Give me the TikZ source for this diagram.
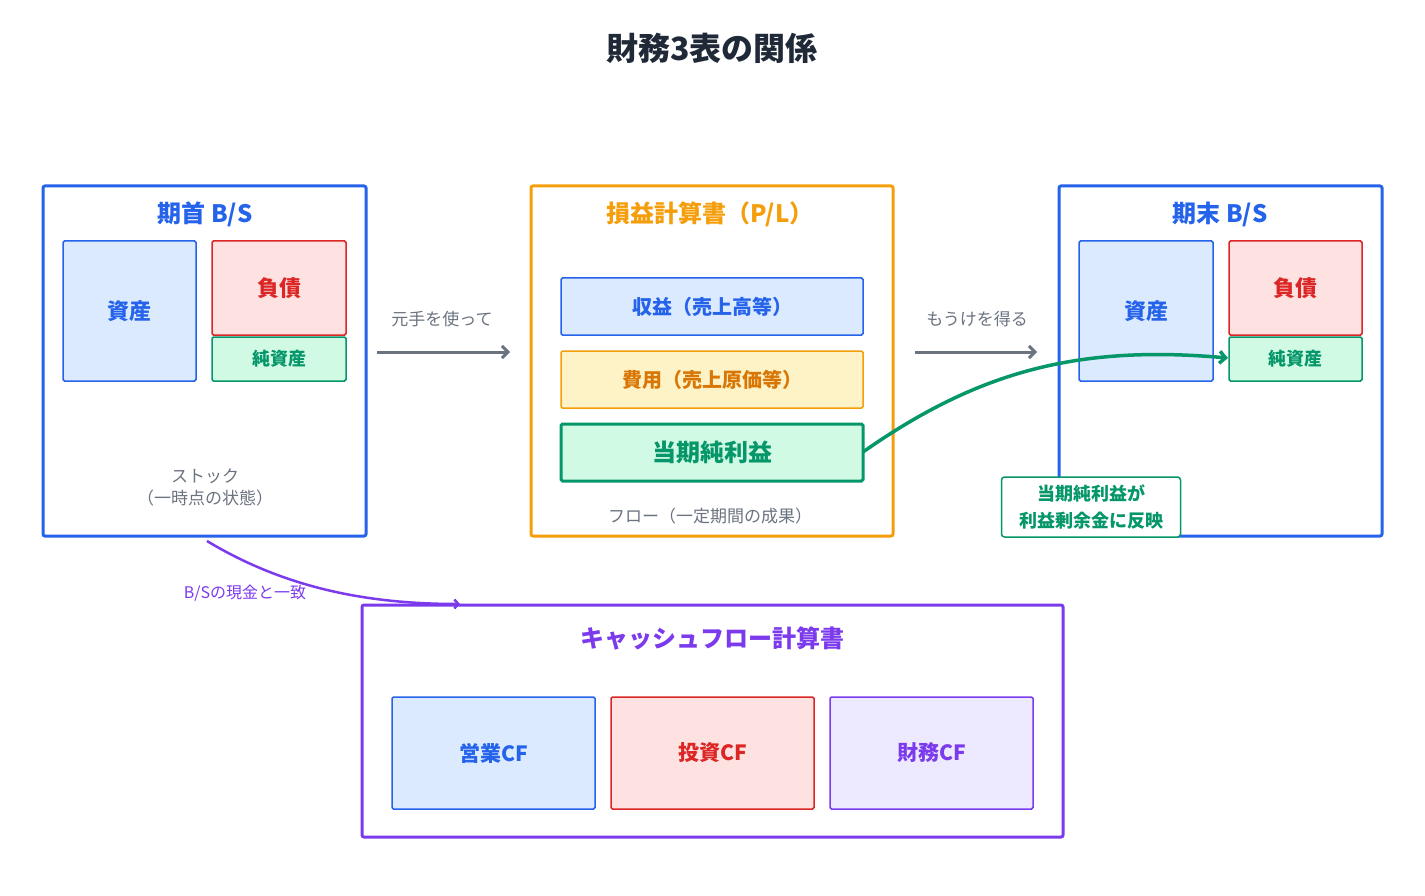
\documentclass[tikz,border=0pt]{standalone}
\usepackage{fontspec}
\setmainfont{Noto Sans CJK JP}
\usetikzlibrary{arrows.meta}
\definecolor{cblue}{HTML}{2563EB}\definecolor{lblue}{HTML}{DBEAFE}
\definecolor{cred}{HTML}{DC2626}\definecolor{lred}{HTML}{FEE2E2}
\definecolor{cgreen}{HTML}{059669}\definecolor{lgreen}{HTML}{D1FAE5}
\definecolor{corange}{HTML}{F59E0B}\definecolor{dorange}{HTML}{D97706}\definecolor{lorange}{HTML}{FEF3C7}
\definecolor{cpurple}{HTML}{7C3AED}\definecolor{lpurple}{HTML}{EDE9FE}
\definecolor{cgray}{HTML}{6B7280}\definecolor{ctitle}{HTML}{1F2937}
\begin{document}
\begin{tikzpicture}[x=1pt,y=-1pt,
 frame/.style={draw=#1,line width=3pt,rounded corners=2pt},
 inner/.style n args={3}{draw=#1,fill=#2,line width=1.5pt,rounded corners=1.5pt,text=#3},
 lab/.style={font=\fontsize{22}{26}\selectfont\bfseries},
 small/.style={font=\fontsize{17}{22}\selectfont,text=cgray,align=center},
 arr/.style={draw=cgray,line width=3pt,-{Straight Barb[length=6pt,width=12pt]}}]
\useasboundingbox (0,0) rectangle (1425,896);
\node[text=ctitle,font=\fontsize{32}{38}\selectfont\bfseries] (title) at (712,48) {財務3表の関係};
% left BS
\draw[frame=cblue] (43,186) rectangle (366,536);
\node[lab,text=cblue,font=\fontsize{24}{28}\selectfont\bfseries] (t1) at (205,214) {期首 B/S};
\draw[inner={cblue}{lblue}{cblue}] (63,241) rectangle (196,381) node[midway,lab] (a1) {資産};
\draw[inner={cred}{lred}{cred}] (212,241) rectangle (346,335) node[midway,lab] (l1) {負債};
\draw[inner={cgreen}{lgreen}{cgreen}] (212,337) rectangle (346,381) node[midway,font=\fontsize{18}{22}\selectfont\bfseries] (n1) {純資産};
\node[small] (s1) at (205,487) {ストック\\（一時点の状態）};
% arrow 1
\coordinate (a1s) at (377,352); \coordinate (a1e) at (510,352);
\draw[arr] (a1s) -- (a1e);
\node[small] (m1) at (442,319) {元手を使って};
% PL
\draw[frame=corange] (531,186) rectangle (893,536);
\node[text=corange,font=\fontsize{24}{28}\selectfont\bfseries] (t2) at (710,214) {損益計算書（P/L）};
\draw[inner={cblue}{lblue}{cblue}] (561,278) rectangle (863,335) node[midway,font=\fontsize{20}{24}\selectfont\bfseries] (rev) {収益（売上高等）};
\draw[inner={corange}{lorange}{dorange}] (561,351) rectangle (863,408) node[midway,font=\fontsize{20}{24}\selectfont\bfseries] (exp) {費用（売上原価等）};
\draw[draw=cgreen,fill=lgreen,line width=3pt,rounded corners=1.5pt] (561,424) rectangle (863,481) node[midway,text=cgreen,font=\fontsize{24}{28}\selectfont\bfseries] (ni) {当期純利益};
\coordinate (niR) at (863,452);
\node[small] (s2) at (710,516) {フロー（一定期間の成果）};
% arrow 2
\coordinate (a2s) at (915,352); \coordinate (a2e) at (1037,352);
\draw[arr] (a2s) -- (a2e);
\node[small] (m2) at (977,319) {もうけを得る};
% right BS
\draw[frame=cblue] (1059,186) rectangle (1382,536);
\node[text=cblue,font=\fontsize{24}{28}\selectfont\bfseries] (t3) at (1220,214) {期末 B/S};
\draw[inner={cblue}{lblue}{cblue}] (1079,241) rectangle (1213,381) node[midway,lab] (a2) {資産};
\draw[inner={cred}{lred}{cred}] (1229,241) rectangle (1362,335) node[midway,lab] (l2) {負債};
\draw[inner={cgreen}{lgreen}{cgreen}] (1229,337) rectangle (1362,381) node[midway,font=\fontsize{18}{22}\selectfont\bfseries] (n2) {純資産};
\coordinate (n2L) at (1228,358);
\draw[cgreen,line width=3.5pt,-{Straight Barb[length=6pt,width=12pt]}] (niR) .. controls (980,370) and (1080,345) .. (n2L);
\node[draw=cgreen,fill=white,line width=1.5pt,rounded corners=3pt,minimum width=179pt,minimum height=60pt,text=cgreen,align=center,font=\fontsize{18}{27}\selectfont\bfseries] (note) at (1091,507) {当期純利益が\\利益剰余金に反映};
% CF
\draw[frame=cpurple] (362,605) rectangle (1063,837);
\node[text=cpurple,font=\fontsize{24}{28}\selectfont\bfseries] (t4) at (712,638) {キャッシュフロー計算書};
\draw[inner={cblue}{lblue}{cblue}] (392,697) rectangle (595,809) node[midway,font=\fontsize{21}{25}\selectfont\bfseries] (cf1) {営業CF};
\draw[inner={cred}{lred}{cred}] (611,697) rectangle (814,809) node[midway,font=\fontsize{21}{25}\selectfont\bfseries] (cf2) {投資CF};
\draw[inner={cpurple}{lpurple}{cpurple}] (830,697) rectangle (1033,809) node[midway,font=\fontsize{21}{25}\selectfont\bfseries] (cf3) {財務CF};
\coordinate (ps) at (207,541); \coordinate (pe) at (460,604);
\draw[cpurple,line width=2.5pt,-{Straight Barb[length=4pt,width=9pt]}] (ps) .. controls (280,585) and (360,604) .. (pe);
\node[text=cpurple,font=\fontsize{16}{20}\selectfont] (pl) at (245,593) {B/Sの現金と一致};
\end{tikzpicture}
\end{document}
